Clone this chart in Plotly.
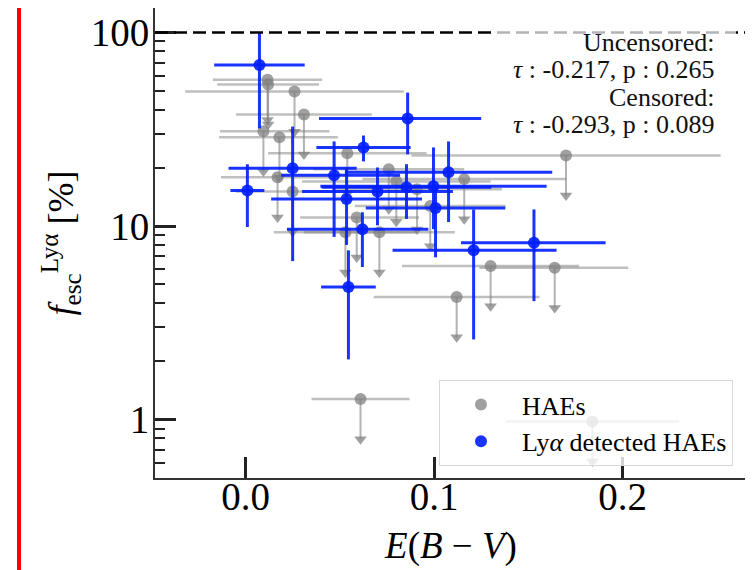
import numpy as np
import plotly.graph_objects as go

# ---- HAEs (upper limits, gray) ----
hae_x = [0.0117, 0.012, 0.026, 0.031, 0.0095, 0.018, 0.017, 0.025, 0.054, 0.076, 0.080, 0.091,
         0.059, 0.053, 0.071, 0.098, 0.116, 0.170, 0.130, 0.164, 0.112, 0.061, 0.184]
hae_x_lo = [0.029, 0.027, 0.058, 0.036, 0.023, 0.032, 0.030, 0.030, 0.042, 0.040, 0.050, 0.045,
            0.030, 0.038, 0.040, 0.040, 0.054, 0.082, 0.047, 0.040, 0.044, 0.026, 0.046]
hae_x_hi = [0.029, 0.027, 0.058, 0.036, 0.035, 0.031, 0.030, 0.030, 0.042, 0.040, 0.050, 0.045,
            0.033, 0.038, 0.040, 0.040, 0.054, 0.082, 0.047, 0.039, 0.044, 0.026, 0.046]
hae_y = [57, 54, 49.6, 37.8, 30.9, 28.8, 17.9, 15.1, 23.8, 19.7, 17.0, 15.5,
         11.1, 9.3, 9.3, 12.7, 17.5, 23.2, 6.22, 6.1, 4.3, 1.28, 0.98]
arrow_frac = 0.62

# ---- Lya detected HAEs (blue) ----
lae_x = [0.0074, 0.001, 0.025, 0.047, 0.0626, 0.086, 0.0536, 0.070, 0.062, 0.0546,
         0.0854, 0.0997, 0.1077, 0.1008, 0.121, 0.153]
lae_x_lo = [0.024, 0.009, 0.034, 0.028, 0.025, 0.047, 0.040, 0.040, 0.040, 0.0145,
            0.045, 0.060, 0.055, 0.037, 0.043, 0.0387]
lae_x_hi = [0.024, 0.009, 0.034, 0.035, 0.025, 0.039, 0.040, 0.040, 0.035, 0.0145,
            0.045, 0.060, 0.055, 0.037, 0.044, 0.038]
lae_y = [68, 15.3, 19.9, 18.3, 25.5, 36, 13.8, 15.1, 9.65, 4.85,
         15.9, 16.1, 19.0, 12.4, 7.5, 8.2]
lae_y_lo = [36, 5.4, 13.3, 9.5, 3.9, 12.5, 5.8, 5.0, 3.5, 2.8,
            5.0, 6.45, 8.5, 5.5, 4.9, 4.1]
lae_y_hi = [32, 5.6, 12.8, 9.1, 3.9, 13, 6.0, 5.0, 2.15, 2.65,
            5.0, 9.4, 8.4, 3.6, 4.7, 4.0]

stats_lines = ["Uncensored:", "<i>τ</i> : -0.217, p : 0.265", "Censored:", "<i>τ</i> : -0.293, p : 0.089"]
y_ticks = [1, 10, 100]
x_ticks = [0.0, 0.1, 0.2]

FONT = "Liberation Serif"
gray_line = "rgba(128,128,128,0.5)"
gray_mark = "rgba(128,128,128,0.75)"
blue = "rgba(0,30,255,0.9)"

hy = np.array(hae_y)
tips = hy * arrow_frac

fig = go.Figure()
fig.add_trace(go.Scatter(
    x=hae_x, y=hae_y, mode="markers", name="HAEs",
    marker=dict(symbol="circle", size=12, color=gray_mark),
    error_x=dict(type="data", symmetric=False, array=hae_x_hi, arrayminus=hae_x_lo,
                 color=gray_line, thickness=2.5, width=0),
    error_y=dict(type="data", symmetric=False, array=[0] * len(hae_y),
                 arrayminus=list(hy - tips), color="rgba(128,128,128,0.6)", thickness=2, width=0),
))
fig.add_trace(go.Scatter(
    x=hae_x, y=list(tips), mode="markers", showlegend=False, hoverinfo="skip",
    marker=dict(symbol="triangle-down", size=11, color=gray_mark),
))
fig.add_trace(go.Scatter(
    x=lae_x, y=lae_y, mode="markers", name="Ly<i>α</i> detected HAEs",
    marker=dict(symbol="circle", size=12, color=blue),
    error_x=dict(type="data", symmetric=False, array=lae_x_hi, arrayminus=lae_x_lo,
                 color=blue, thickness=3, width=0),
    error_y=dict(type="data", symmetric=False, array=lae_y_hi, arrayminus=lae_y_lo,
                 color=blue, thickness=3, width=0),
))

# the page puts the figure 8px in from the top-left corner
OFF = 8
FW, FH = 753 - OFF, 570 - OFF
# plot area in page pixels: x 155..747, y 7..478 -> figure pixels
L, R, T, B = 155 - OFF, 747 - OFF, 0, 478 - OFF
W, H = R - L, B - T
def px(xp): return (xp - OFF - L) / W
def py(yp): return (B - (yp - OFF)) / H

# dashed line at 100%
fig.add_shape(type="line", xref="paper", yref="y", x0=0, x1=1, y0=100, y1=100,
              line=dict(color="black", width=2.5, dash="13px,6px"), layer="above")
# semi-transparent text box
fig.add_shape(type="rect", xref="paper", yref="paper", x0=px(495), x1=px(736),
              y0=py(140), y1=py(24), fillcolor="rgba(255,255,255,0.7)",
              line=dict(width=0), layer="above")
for txt, yp in zip(stats_lines, [42, 69, 97, 124]):
    fig.add_annotation(text=txt, xref="paper", yref="paper", x=px(716), y=py(yp),
                       xanchor="right", yanchor="middle", showarrow=False,
                       font=dict(family=FONT, size=26, color="#111"))

# red vertical bar at the left edge of the picture
fig.add_shape(type="line", xref="paper", yref="paper", x0=px(19), x1=px(19),
              y0=py(OFF), y1=py(570), line=dict(color="#ff0000", width=4))

minor_vals = [v * d for d in [0.1, 1, 10, 100] for v in range(2, 10)]
minor_vals = [v for v in minor_vals if 0.5 <= v <= 134 and v not in (1, 10, 100)]

fig.update_layout(
    width=FW, height=FH,
    margin=dict(l=L, r=FW - R, t=T, b=FH - B),
    paper_bgcolor="white", plot_bgcolor="white",
    font=dict(family=FONT, color="black"),
    showlegend=True,
    legend=dict(x=px(733), y=py(466), xanchor="right", yanchor="bottom",
                bgcolor="rgba(255,255,255,0.8)", bordercolor="#d8d8d8", borderwidth=1,
                font=dict(family=FONT, size=26), itemsizing="constant", itemwidth=72,
                tracegroupgap=0),
    xaxis=dict(range=[-0.048, 0.266], tickvals=x_ticks, ticktext=["0.0", "0.1", "0.2"],
               ticks="inside", ticklen=21, tickwidth=2.5, tickcolor="#222",
               showline=True, linecolor="#333", linewidth=2, mirror=True,
               showgrid=False, zeroline=False, automargin=False, ticklabelstandoff=-17,
               tickfont=dict(family=FONT, size=39),
               title=dict(text="<i>E</i>(<i>B</i> − <i>V</i>)", font=dict(family=FONT, size=37),
                          standoff=15)),
    yaxis=dict(type="log", range=[np.log10(0.5), np.log10(134)],
               tickvals=y_ticks, ticktext=["1", "10", "100"],
               ticks="inside", ticklen=21, tickwidth=2.5, tickcolor="#222",
               minor=dict(tickvals=minor_vals, ticks="inside", ticklen=10, tickwidth=1.5,
                          tickcolor="#222", showgrid=False),
               showline=True, linecolor="#333", linewidth=2, mirror=True,
               showgrid=False, zeroline=False, automargin=False, ticklabelstandoff=-4,
               tickfont=dict(family=FONT, size=39),
               title=dict(text="<i>f</i><sub>esc</sub><sup>Lyα</sup> [%]",
                          font=dict(family=FONT, size=36), standoff=6)),
)

fig.write_html("out.html")
